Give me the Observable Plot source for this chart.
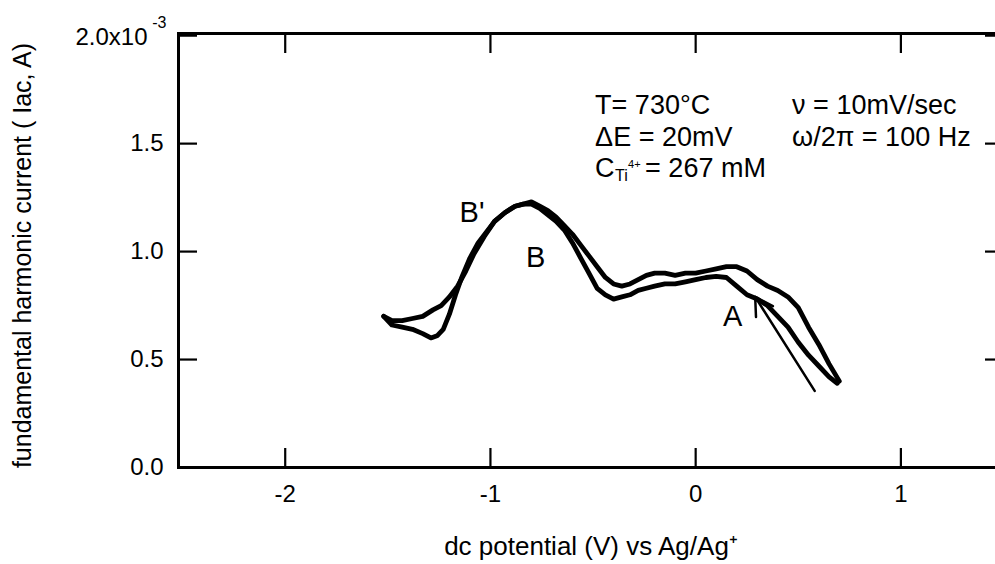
<!DOCTYPE html>
<html><head><meta charset="utf-8">
<script src="https://cdn.jsdelivr.net/npm/d3@7"></script>
<script src="https://cdn.jsdelivr.net/npm/@observablehq/plot@0.6"></script>
<style>html,body{margin:0;padding:0;background:#fff;overflow:hidden}</style>
</head><body><div id="chart"></div>
<script>
// dc potential (V) and current (units of 1e-3 A), scan 1 (upper at left, outer at right)
const potentialA = [-1.52,-1.48,-1.43,-1.38,-1.33,-1.28,-1.24,-1.20,-1.16,-1.12,-1.08,-1.03,-0.98,-0.93,-0.88,-0.84,-0.80,-0.76,-0.72,-0.68,-0.64,-0.60,-0.56,-0.52,-0.48,-0.44,-0.40,-0.36,-0.32,-0.28,-0.24,-0.20,-0.15,-0.10,-0.05,0.00,0.05,0.10,0.15,0.20,0.25,0.30,0.35,0.40,0.45,0.50,0.55,0.60,0.65,0.70];
const currentA   = [0.70,0.68,0.68,0.69,0.70,0.73,0.75,0.79,0.84,0.91,0.99,1.07,1.14,1.18,1.21,1.22,1.23,1.21,1.19,1.16,1.12,1.08,1.03,0.98,0.93,0.88,0.85,0.84,0.85,0.87,0.89,0.90,0.90,0.89,0.90,0.90,0.91,0.92,0.93,0.93,0.91,0.87,0.84,0.82,0.79,0.74,0.65,0.57,0.48,0.40];
// scan 2 (dips at left, inner at right)
const potentialB = [-1.52,-1.48,-1.43,-1.38,-1.33,-1.29,-1.26,-1.23,-1.20,-1.17,-1.14,-1.10,-1.06,-1.02,-0.98,-0.93,-0.88,-0.84,-0.80,-0.76,-0.72,-0.68,-0.64,-0.60,-0.56,-0.52,-0.48,-0.44,-0.40,-0.36,-0.32,-0.28,-0.24,-0.20,-0.15,-0.10,-0.05,0.00,0.05,0.10,0.15,0.20,0.25,0.30,0.35,0.40,0.45,0.50,0.55,0.60,0.65,0.69];
const currentB   = [0.70,0.66,0.65,0.64,0.62,0.60,0.61,0.64,0.71,0.80,0.88,0.97,1.04,1.09,1.14,1.18,1.21,1.22,1.22,1.20,1.17,1.14,1.10,1.04,0.97,0.90,0.83,0.80,0.78,0.79,0.80,0.82,0.83,0.84,0.85,0.85,0.86,0.87,0.88,0.885,0.88,0.84,0.80,0.78,0.75,0.70,0.65,0.58,0.52,0.47,0.42,0.39];

const xTicks = [-2, -1, 0, 1];
const yTicks = [0, 0.5, 1, 1.5, 2];
const yTickLabels = ["0.0", "0.5", "1.0", "1.5", ""];
const yTopLabel = "2.0x10";
const yExponent = "-3";

const peakNames = ["B'", "B", "A"];
const peakX = [-1.09, -0.78, 0.18];
const peakY = [1.18, 0.97, 0.70];

const arrowFrom = [0.58, 0.355];
const arrowTo = [0.29, 0.79];

const condLines = ["T= 730°C", "ΔE = 20mV", "ν = 10mV/sec", "ω/2π = 100 Hz"];
const condX = [-0.49, -0.49, 0.47, 0.47];
const condY = [1.677, 1.528, 1.677, 1.528];
const concParts = ["C", "Ti", "4+", "= 267 mM"];
const concX = -0.49, concY = 1.385;

const xLabel = "dc potential (V) vs Ag/Ag⁺";
const yLabel = "fundamental harmonic current ( Iac, A)";

const scanA = potentialA.map((x, i) => ({x, y: currentA[i]}));
const scanB = potentialB.map((x, i) => ({x, y: currentB[i]}));
const peaks = peakNames.map((t, i) => ({t, x: peakX[i], y: peakY[i]}));
const conds = condLines.map((t, i) => ({t, x: condX[i], y: condY[i]}));

const F = "Liberation Sans, Arial, Helvetica, sans-serif";
const chart = Plot.plot({
  width: 995, height: 564,
  marginLeft: 178, marginRight: -8, marginTop: 33, marginBottom: 97,
  style: {fontFamily: F, fontSize: "24px", background: "#fff", color: "#000"},
  x: {domain: [-2.52, 1.5]},
  y: {domain: [0, 2.01]},
  marks: [
    Plot.frame({stroke: "#000", strokeWidth: 3}),
    Plot.axisX(xTicks, {anchor: "bottom", tickSize: -19, tickPadding: 36, strokeWidth: 2.2, tickFormat: d => String(d), label: null, fontSize: 24}),
    Plot.axisX(xTicks, {anchor: "top", tickSize: -19, strokeWidth: 2.2, tickFormat: () => "", label: null}),
    Plot.axisY(yTicks, {anchor: "left", tickSize: -19, tickPadding: 34, strokeWidth: 2.2, tickFormat: (d, i) => yTickLabels[i], label: null, fontSize: 24}),
    Plot.axisY(yTicks, {anchor: "right", tickSize: -19, strokeWidth: 2.2, tickFormat: () => "", label: null}),
    Plot.text([yTopLabel], {x: () => -2.52, y: () => yTicks[4], text: d => d, textAnchor: "end", dx: -31, dy: 2, fontSize: 24}),
    Plot.text([yExponent], {frameAnchor: "top-left", text: d => d, textAnchor: "end", dx: -12, dy: -17, fontSize: 16}),
    Plot.line(scanA, {x: "x", y: "y", stroke: "#000", strokeWidth: 4.8, curve: "linear", strokeLinejoin: "round"}),
    Plot.line(scanB, {x: "x", y: "y", stroke: "#000", strokeWidth: 4.8, curve: "linear", strokeLinejoin: "round"}),
    Plot.arrow([{x1: arrowFrom[0], y1: arrowFrom[1], x2: arrowTo[0], y2: arrowTo[1]}], {x1: "x1", y1: "y1", x2: "x2", y2: "y2", stroke: "#000", strokeWidth: 2.5, headLength: 12}),
    Plot.text(peaks, {x: "x", y: "y", text: "t", fontSize: 29}),
    Plot.text(conds, {x: "x", y: "y", text: "t", textAnchor: "start", fontSize: 27}),
    Plot.text([concParts[0]], {x: () => concX, y: () => concY, text: d => d, textAnchor: "start", fontSize: 27}),
    Plot.text([concParts[1]], {x: () => concX, y: () => concY, text: d => d, textAnchor: "start", fontSize: 16, dx: 20, dy: 7}),
    Plot.text([concParts[2]], {x: () => concX, y: () => concY, text: d => d, textAnchor: "start", fontSize: 11, dx: 33, dy: -4}),
    Plot.text([concParts[3]], {x: () => concX, y: () => concY, text: d => d, textAnchor: "start", fontSize: 27, dx: 50}),
    Plot.text([xLabel], {frameAnchor: "bottom", dy: 87, text: d => d, fontSize: 26}),
    Plot.text([yLabel], {frameAnchor: "left", textAnchor: "middle", rotate: -90, dx: -156, dy: 5, text: d => d, fontSize: 25})
  ]
});
document.getElementById("chart").append(chart);
</script>
</body></html>
